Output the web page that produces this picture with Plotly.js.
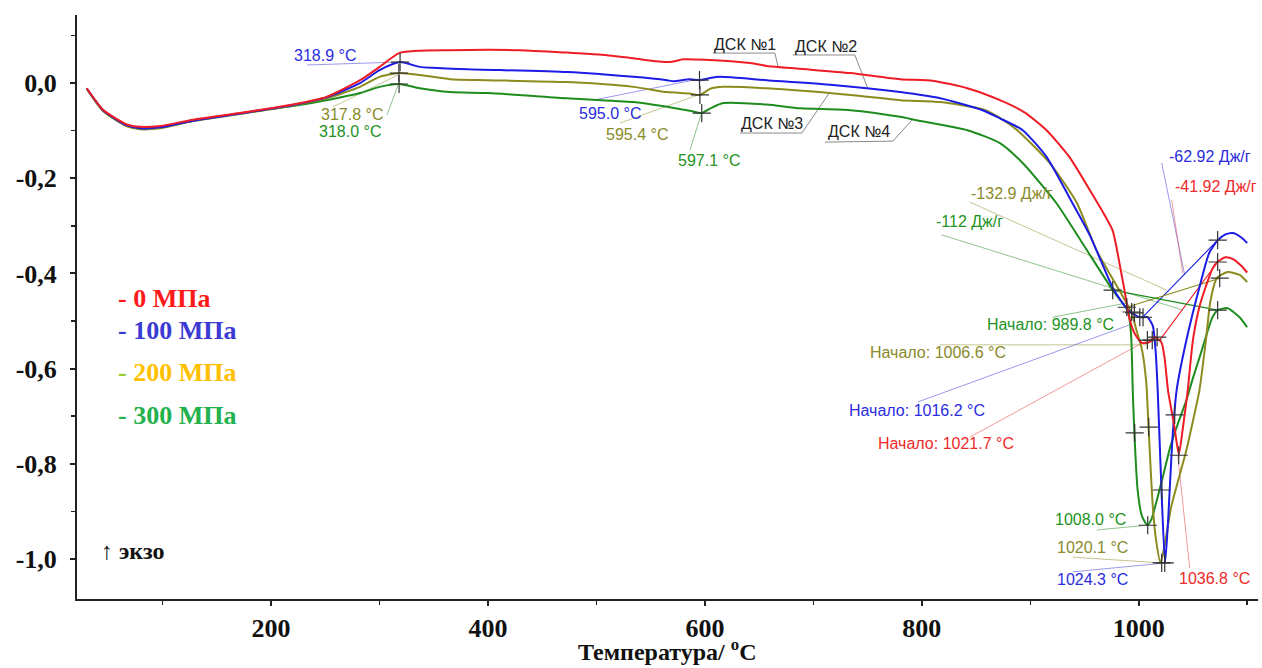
<!DOCTYPE html>
<html>
<head>
<meta charset="utf-8">
<script src="https://cdn.plot.ly/plotly-3.0.1.min.js"></script>
<style>html,body{margin:0;padding:0;background:#fff;}#chart{width:1262px;height:668px;}</style>
</head>
<body>
<div id="chart"></div>
<script>
// ---------- DATA ----------
const seriesNames = ["0 МПа", "100 МПа", "200 МПа", "300 МПа"];

const tRed = [30,45,67,79,98,128,174,220,251,282,300,318,337,365,400,430,473,503,534,565,572,580,600,642,657,688,734,780,810,842,872,895,915,936,955,968,976,984,988,991,996,1003,1010,1015,1021,1024,1027,1033,1037,1041,1045,1050,1056,1063,1068,1073,1080,1087,1095,1100];
const vRed = [-0.011,-0.056,-0.087,-0.092,-0.090,-0.077,-0.062,-0.045,-0.029,0.006,0.034,0.063,0.068,0.069,0.070,0.069,0.064,0.060,0.052,0.044,0.046,0.050,0.049,0.042,0.036,0.030,0.021,0.008,0.005,-0.011,-0.036,-0.062,-0.099,-0.155,-0.225,-0.275,-0.31,-0.40,-0.45,-0.49,-0.525,-0.546,-0.544,-0.534,-0.545,-0.58,-0.645,-0.723,-0.78,-0.72,-0.65,-0.54,-0.47,-0.42,-0.39,-0.375,-0.366,-0.37,-0.385,-0.398];

const tBlue = [30,45,67,79,98,128,174,220,251,282,300,318.9,337,349,381,473,534,565,571,586,595,606,614,657,718,780,817,856,872,893,915,936,955,976,986,990,1001,1008,1013,1015.5,1017.5,1021,1024.3,1027,1031,1035,1044,1056,1065,1073,1080,1087,1095,1100];
const vBlue = [-0.011,-0.057,-0.089,-0.095,-0.093,-0.079,-0.063,-0.046,-0.030,0.000,0.027,0.044,0.034,0.032,0.029,0.023,0.013,0.006,0.004,0.008,0.006,0.011,0.013,0.006,-0.004,-0.019,-0.032,-0.057,-0.074,-0.099,-0.155,-0.24,-0.32,-0.43,-0.465,-0.477,-0.492,-0.492,-0.51,-0.56,-0.645,-0.855,-1.008,-0.924,-0.75,-0.645,-0.54,-0.429,-0.357,-0.330,-0.318,-0.315,-0.325,-0.336];

const tOlive = [30,45,67,79,98,128,174,220,251,282,300,317.8,337,365,400,473,534,565,586,595.4,605,617,657,734,780,817,856,872,888,918,943,961,982,993.5,998,1003,1007,1009,1013,1016,1020.1,1024,1030,1044,1050,1056,1062,1066,1072,1082,1093,1100];
const vOlive = [-0.012,-0.059,-0.091,-0.097,-0.095,-0.080,-0.064,-0.047,-0.032,-0.008,0.013,0.021,0.017,0.008,0.006,0.002,-0.008,-0.019,-0.022,-0.025,-0.012,-0.008,-0.011,-0.025,-0.036,-0.040,-0.055,-0.073,-0.099,-0.168,-0.252,-0.351,-0.435,-0.483,-0.52,-0.56,-0.63,-0.72,-0.89,-0.96,-1.008,-0.97,-0.89,-0.771,-0.71,-0.645,-0.54,-0.46,-0.41,-0.397,-0.403,-0.418];

const tGreen = [30,45,67,79,98,128,174,220,251,282,300,318,337,365,400,473,534,565,586,597.1,606,617,657,688,734,780,795,842,872,893,924,948,976,986,990,993,994.5,996,999,1003,1008,1012,1015,1022,1029,1037,1044,1050,1057,1063,1068,1073,1082,1093,1100];
const vGreen = [-0.012,-0.058,-0.090,-0.096,-0.094,-0.079,-0.063,-0.048,-0.036,-0.021,-0.008,-0.002,-0.011,-0.019,-0.021,-0.032,-0.040,-0.050,-0.058,-0.063,-0.052,-0.042,-0.045,-0.053,-0.057,-0.071,-0.078,-0.099,-0.126,-0.168,-0.252,-0.336,-0.435,-0.465,-0.477,-0.53,-0.645,-0.735,-0.855,-0.91,-0.929,-0.915,-0.891,-0.83,-0.765,-0.71,-0.666,-0.62,-0.57,-0.525,-0.492,-0.477,-0.473,-0.492,-0.513];

// analysis markers (+)
const markT = [318.9,317.8,318.0,595.0,595.4,597.1,976,989,993.5,996,1001,1004,1008,1012.5,1017,996.3,1009.2,1033.2,1036.9,1021.2,1008.3,1021.2,1024,1072.8,1072.8,1074.7,1072.8];
const markV = [0.044,0.021,-0.002,0.006,-0.025,-0.063,-0.435,-0.471,-0.481,-0.483,-0.492,-0.492,-0.540,-0.540,-0.534,-0.735,-0.723,-0.697,-0.782,-0.855,-0.929,-1.008,-1.008,-0.330,-0.376,-0.410,-0.477];

const xTickVals = [200,400,600,800,1000];
const xTickText = ["200","400","600","800","1000"];
const yTickVals = [0,-0.2,-0.4,-0.6,-0.8,-1.0];
const yTickText = ["0,0","-0,2","-0,4","-0,6","-0,8","-1,0"];

// ---------- STYLE ----------
const cRed = "#ee1c24", cBlue = "#1c1ce6", cOlive = "#8c8c1e", cGreen = "#1e8c1e";
const pRed = "rgba(230,70,70,0.55)", pBlue = "rgba(70,70,220,0.55)", pOlive = "rgba(150,150,60,0.55)", pGreen = "rgba(50,150,50,0.55)";
const tcRed = "#ee2a2a", tcBlue = "#2b2be0", tcOlive = "#8a8a2a", tcGreen = "#239323";

function curve(t, v, c, name) {
  return {x: t, y: v, type: "scatter", mode: "lines", name: name,
          line: {color: c, width: 2, shape: "spline", smoothing: 0.6}, hoverinfo: "skip"};
}
const traces = [
  curve(tGreen, vGreen, cGreen, seriesNames[3]),
  curve(tOlive, vOlive, cOlive, seriesNames[2]),
  curve(tBlue, vBlue, cBlue, seriesNames[1]),
  curve(tRed, vRed, cRed, seriesNames[0]),
  {x: markT, y: markV, type: "scatter", mode: "markers", hoverinfo: "skip",
   marker: {symbol: "cross-thin", size: 13, line: {color: "#333", width: 1.2}}}
];

// leader lines [x0,y0,x1,y1,color,width]
const leaders = [
  [233.2,0.038,316.1,0.044,pBlue,1],
  [257.1,-0.050,317.1,0.017,pOlive,1],
  [306.9,-0.067,317.1,-0.004,pGreen,1],
  [496.8,-0.036,593.5,0.008,pBlue,1],
  [521.7,-0.084,593.5,-0.025,pOlive,1],
  [586.2,-0.141,597.2,-0.061,pGreen,1],
  [1021.2,-0.168,1042.4,-0.403,pBlue,1],
  [1030.4,-0.246,1040.6,-0.399,pRed,1],
  [844.2,-0.250,1025.8,-0.435,pOlive,1],
  [818.4,-0.319,1040.6,-0.477,pGreen,1],
  [920.7,-0.492,988.9,-0.462,pGreen,1],
  [816.6,-0.550,1007.4,-0.550,pOlive,1],
  [796.3,-0.670,991.7,-0.508,pBlue,1],
  [844.2,-0.744,1012.9,-0.534,pRed,1],
  [961.3,-0.939,1007.4,-0.929,pGreen,1],
  [939.2,-0.996,1019.4,-1.008,pOlive,1],
  [939.2,-1.027,1025.8,-1.008,pBlue,1],
  [1047,-1.019,1036,-0.782,pRed,1],
  // integration baselines
  [1003.7,-0.492,1072.8,-0.330,cBlue,1.1],
  [1019.4,-0.540,1072.8,-0.376,cRed,1.1],
  [988.9,-0.471,1074.7,-0.410,cOlive,1.1],
  [976,-0.435,1072.8,-0.477,cGreen,1.1]
];
const shapes = leaders.map(l => ({type: "line", xref: "x", yref: "y", x0: l[0], y0: l[1], x1: l[2], y1: l[3],
  line: {color: l[4], width: l[5]}, layer: "below"}));

// ДСК callouts (gray polylines)
const callouts = [
  [[607.4,0.063],[664.5,0.063],[667.3,0.036]],
  [[681.1,0.059],[738.2,0.059],[750.2,-0.011]],
  [[632.3,-0.105],[689.4,-0.105],[715.2,-0.019]],
  [[710.6,-0.124],[773.3,-0.122],[790.8,-0.078]]
];
callouts.forEach(pts => {
  shapes.push({type: "path", xref: "x", yref: "y", layer: "below",
    path: "M" + pts.map(p => p[0] + "," + p[1]).join(" L"),
    line: {color: "#8a8a8a", width: 1}});
});

// text labels [text, x, y, color]
const labels = [
  ["318.9 °C", 249.8, 0.057, tcBlue],
  ["317.8 °C", 274.7, -0.067, tcOlive],
  ["318.0 °C", 272.8, -0.101, tcGreen],
  ["595.0 °C", 512.4, -0.063, tcBlue],
  ["595.4 °C", 537.3, -0.109, tcOlive],
  ["597.1 °C", 603.7, -0.162, tcGreen],
  ["ДСК №1", 636.9, 0.080, "#222"],
  ["ДСК №2", 711.5, 0.076, "#222"],
  ["ДСК №3", 661.8, -0.084, "#222"],
  ["ДСК №4", 741.9, -0.101, "#222"],
  ["-62.92 Дж/г", 1065.4, -0.155, tcBlue],
  ["-41.92 Дж/г", 1071.5, -0.218, tcRed],
  ["-132.9 Дж/г", 883, -0.233, tcOlive],
  ["-112 Дж/г", 844.2, -0.290, tcGreen],
  ["Начало: 989.8 °C", 918.9, -0.508, tcGreen],
  ["Начало: 1006.6 °C", 814.7, -0.567, tcOlive],
  ["Начало: 1016.2 °C", 795.4, -0.687, tcBlue],
  ["Начало: 1021.7 °C", 822.1, -0.758, tcRed],
  ["1008.0 °C", 955.8, -0.916, tcGreen],
  ["1020.1 °C", 957.6, -0.975, tcOlive],
  ["1024.3 °C", 957.6, -1.042, tcBlue],
  ["1036.8 °C", 1070, -1.040, tcRed]
];
const annotations = labels.map(l => ({text: l[0], x: l[1], y: l[2], xref: "x", yref: "y",
  showarrow: false, xanchor: "center", yanchor: "middle",
  font: {family: "Liberation Sans, Arial, sans-serif", size: 16, color: l[3]}}));

// pressure legend (text)
const legendItems = [
  ["<span style='color:#ff1a1a'>- </span>0 МПа", "#ff1a1a", 0.515],
  ["<span style='color:#3b3bd4'>- </span>100 МПа", "#3b3bd4", 0.460],
  ["<span style='color:#9acd32'>- </span>200 МПа", "#ffc000", 0.387],
  ["<span style='color:#22b14c'>- </span>300 МПа", "#22b14c", 0.315]
];
legendItems.forEach(it => annotations.push({text: "<b>" + it[0] + "</b>", xref: "paper", yref: "paper",
  x: 0.033, y: it[2], xanchor: "left", yanchor: "middle", showarrow: false,
  font: {family: "Liberation Serif, Times New Roman, serif", size: 26, color: it[1]}}));

annotations.push({text: "↑ <b>экзо</b>", xref: "paper", yref: "paper", x: 0.019, y: 0.082,
  xanchor: "left", yanchor: "middle", showarrow: false,
  font: {family: "Liberation Serif, Times New Roman, serif", size: 24, color: "#111"}});

annotations.push({text: "<b>Температура/ <sup>o</sup>C</b>", xref: "paper", yref: "paper", x: 0.5, y: -0.1164,
  xanchor: "center", yanchor: "bottom", showarrow: false,
  font: {family: "Liberation Serif, Times New Roman, serif", size: 24, color: "#111"}});

const layout = {
  width: 1262, height: 668,
  margin: {l: 77, r: 4, t: 15, b: 69},
  paper_bgcolor: "#fff", plot_bgcolor: "#fff",
  showlegend: false,
  xaxis: {range: [21, 1110], showgrid: false, zeroline: false, showline: true, linecolor: "#222", linewidth: 2,
    ticks: "outside", ticklen: 5, tickwidth: 2, tickcolor: "#222",
    tickvals: xTickVals, ticktext: xTickText.map(s => "<b>" + s + "</b>"), ticklabelstandoff: 0,
    tickfont: {family: "Liberation Serif, Times New Roman, serif", size: 26, color: "#111"},
    minor: {dtick: 100, tick0: 0, ticks: "outside", ticklen: 4, tickwidth: 1.5, tickcolor: "#222", showgrid: false}},
  yaxis: {range: [-1.084, 0.143], showgrid: false, zeroline: false, showline: true, linecolor: "#222", linewidth: 2,
    ticks: "outside", ticklen: 5, tickwidth: 2, tickcolor: "#222",
    tickvals: yTickVals, ticktext: yTickText.map(s => "<b>" + s + "</b>"), ticklabelstandoff: 8,
    tickfont: {family: "Liberation Serif, Times New Roman, serif", size: 26, color: "#111"},
    minor: {dtick: 0.1, tick0: 0, ticks: "outside", ticklen: 4, tickwidth: 1.5, tickcolor: "#222", showgrid: false}},
  shapes: shapes,
  annotations: annotations
};

Plotly.newPlot("chart", traces, layout, {displayModeBar: false, staticPlot: true});
</script>
</body>
</html>
